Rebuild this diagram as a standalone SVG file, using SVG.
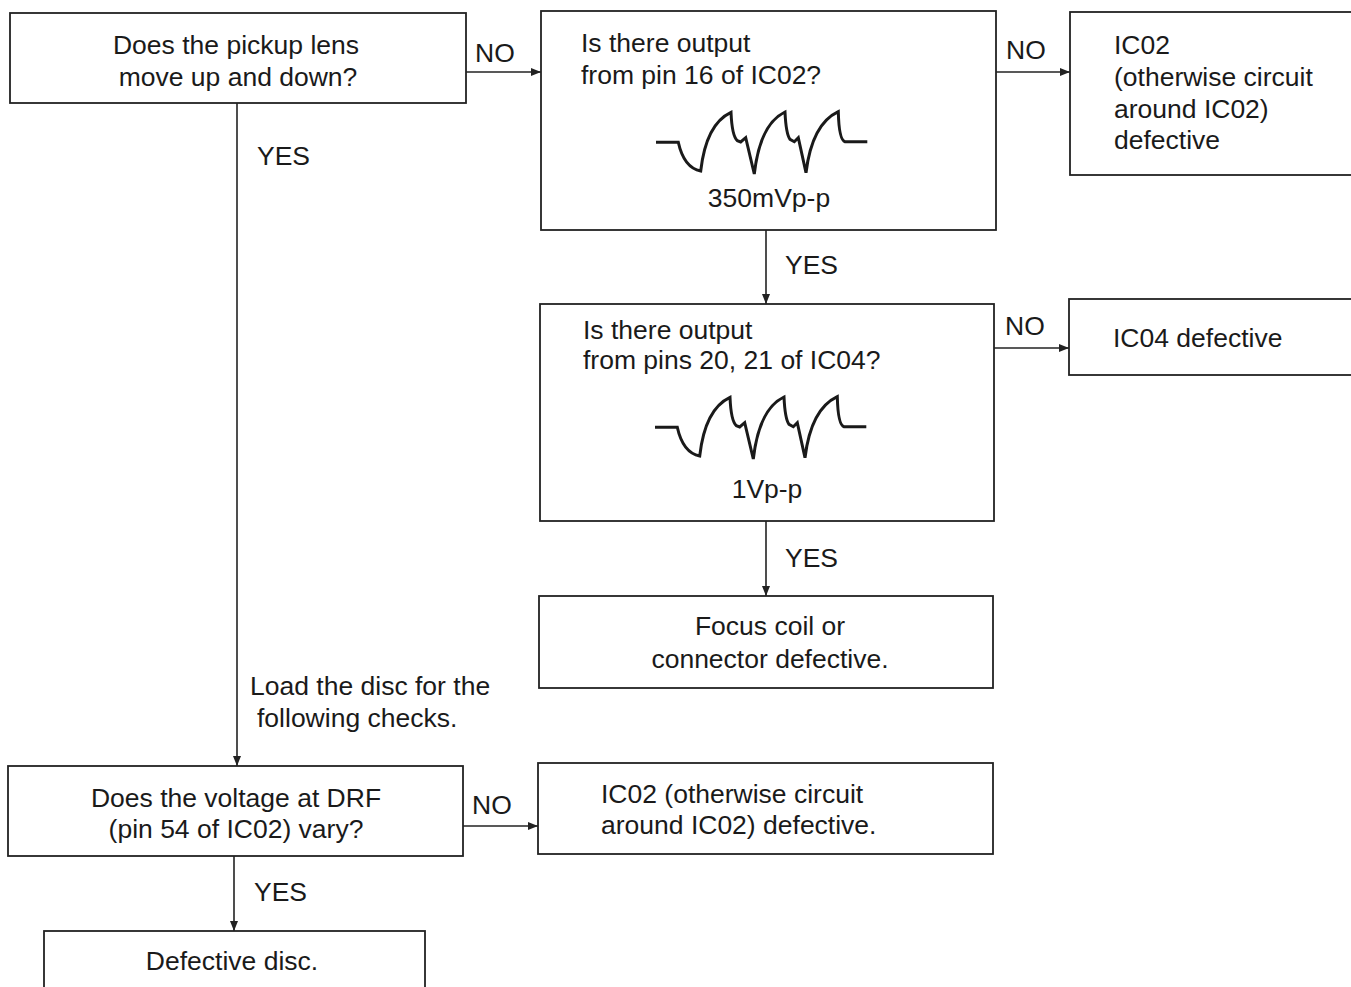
<svg xmlns="http://www.w3.org/2000/svg" width="1351" height="987" viewBox="0 0 1351 987">
<style>
  .box { fill: #fff; stroke: #222; stroke-width: 1.8; }
  .t { font-family: "Liberation Sans", Arial, sans-serif; font-size: 26.5px; fill: #1a1a1a; }
  .c { text-anchor: middle; }
  .ln { stroke: #222; stroke-width: 1.6; fill: none; }
  .wave { stroke: #1a1a1a; stroke-width: 3; fill: none; stroke-linejoin: miter; }
</style>
<defs>
  <marker id="arr" viewBox="0 0 10 8" refX="10" refY="4" markerWidth="10" markerHeight="8" markerUnits="userSpaceOnUse" orient="auto">
    <path d="M0,0 L10,4 L0,8 Z" fill="#222"/>
  </marker>
  <path id="wv" d="M656,142.3 L678.3,142.3 Q684,168 700.7,171 Q706,124 731,112.3 Q732,136 737.3,140.7 L740.7,142 L745.7,137.7 L754.3,174 Q760,124 785,112 Q786,134 790,139.3 L794.3,141.7 L798.3,137.7 L806,172.7 Q812,124 838.3,111.7 Q839,140 845,141.7 L867.3,141.7"/>
</defs>
<rect width="1351" height="987" fill="#fff"/>
<g id="connectors">
  <line class="ln" x1="466" y1="72" x2="541" y2="72" marker-end="url(#arr)"/>
  <text class="t" x="475" y="62">NO</text>
  <line class="ln" x1="996" y1="72" x2="1070" y2="72" marker-end="url(#arr)"/>
  <text class="t" x="1006" y="59">NO</text>
  <line class="ln" x1="237" y1="103" x2="237" y2="766" marker-end="url(#arr)"/>
  <text class="t" x="257" y="165">YES</text>
  <text class="t" x="250" y="695">Load the disc for the</text>
  <text class="t" x="257" y="727">following checks.</text>
  <line class="ln" x1="766" y1="230" x2="766" y2="304" marker-end="url(#arr)"/>
  <text class="t" x="785" y="274">YES</text>
  <line class="ln" x1="994" y1="348" x2="1069" y2="348" marker-end="url(#arr)"/>
  <text class="t" x="1005" y="335">NO</text>
  <line class="ln" x1="766" y1="521" x2="766" y2="596" marker-end="url(#arr)"/>
  <text class="t" x="785" y="567">YES</text>
  <line class="ln" x1="463" y1="826" x2="538" y2="826" marker-end="url(#arr)"/>
  <text class="t" x="472" y="814">NO</text>
  <line class="ln" x1="234" y1="856" x2="234" y2="931" marker-end="url(#arr)"/>
  <text class="t" x="254" y="901">YES</text>
</g>
<g id="n1">
  <rect class="box" x="10" y="13" width="456" height="90"/>
  <text class="t c" x="236" y="54">Does the pickup lens</text>
  <text class="t c" x="238" y="86">move up and down?</text>
</g>
<g id="n2">
  <rect class="box" x="541" y="11" width="455" height="219"/>
  <text class="t" x="581" y="52">Is there output</text>
  <text class="t" x="581" y="84">from pin 16 of IC02?</text>
  <use href="#wv" class="wave"/>
  <text class="t c" x="769" y="207">350mVp-p</text>
</g>
<g id="n3">
  <rect class="box" x="1070" y="12" width="290" height="163"/>
  <text class="t" x="1114" y="54">IC02</text>
  <text class="t" x="1114" y="86">(otherwise circuit</text>
  <text class="t" x="1114" y="118">around IC02)</text>
  <text class="t" x="1114" y="149">defective</text>
</g>
<g id="n4">
  <rect class="box" x="540" y="304" width="454" height="217"/>
  <text class="t" x="583" y="339">Is there output</text>
  <text class="t" x="583" y="369">from pins 20, 21 of IC04?</text>
  <use href="#wv" class="wave" transform="translate(-1,285)"/>
  <text class="t c" x="767" y="498">1Vp-p</text>
</g>
<g id="n5">
  <rect class="box" x="1069" y="299" width="291" height="76"/>
  <text class="t" x="1113" y="347">IC04 defective</text>
</g>
<g id="n6">
  <rect class="box" x="539" y="596" width="454" height="92"/>
  <text class="t c" x="770" y="635">Focus coil or</text>
  <text class="t c" x="770" y="668">connector defective.</text>
</g>
<g id="n7">
  <rect class="box" x="8" y="766" width="455" height="90"/>
  <text class="t c" x="236" y="807">Does the voltage at DRF</text>
  <text class="t c" x="236" y="838">(pin 54 of IC02) vary?</text>
</g>
<g id="n8">
  <rect class="box" x="538" y="763" width="455" height="91"/>
  <text class="t" x="601" y="803">IC02 (otherwise circuit</text>
  <text class="t" x="601" y="834">around IC02) defective.</text>
</g>
<g id="n9">
  <rect class="box" x="44" y="931" width="381" height="70"/>
  <text class="t c" x="232" y="970">Defective disc.</text>
</g>
</svg>
